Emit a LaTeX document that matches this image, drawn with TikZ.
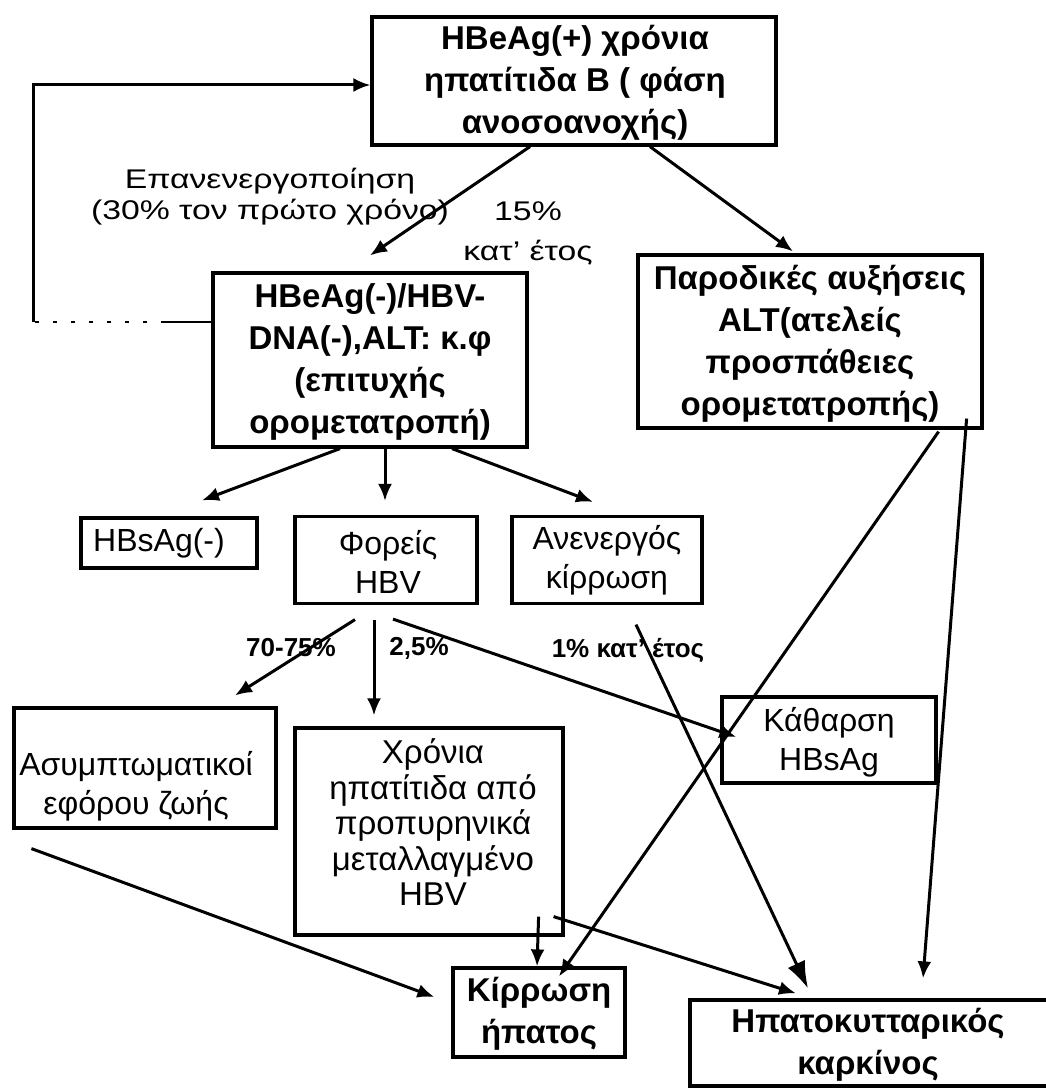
\documentclass[tikz,border=0pt]{standalone}
\usepackage{fontspec}
\setmainfont{Liberation Sans}
\usetikzlibrary{arrows.meta,calc}
\begin{document}
\begin{tikzpicture}[x=1pt,y=-1pt,
  box/.style={draw, line width=3.2pt, inner sep=0pt},
  btext/.style={inner sep=0pt, align=center, font=\fontsize{33}{42}\selectfont\bfseries},
  rtext/.style={inner sep=0pt, align=center, font=\fontsize{32}{39}\selectfont},
  lbl/.style={inner sep=0pt, align=center, font=\fontsize{26}{31}\selectfont\bfseries},
  rlbl/.style={inner sep=0pt, align=center, font=\fontsize{27}{31}\selectfont},
  conn/.style={line width=3pt, -{Latex[length=17pt,width=14pt]}},
  bigconn/.style={line width=3pt, -{Latex[length=27pt,width=19pt]}},
]
\useasboundingbox (0,0) rectangle (1046,1089);

% boxes
\node[box, minimum width=404pt, minimum height=128pt] (top) at (574,81) {};
\node[box, minimum width=314pt, minimum height=174pt] (dna) at (370,360) {};
\node[box, minimum width=344pt, minimum height=173pt] (par) at (810,341.5) {};
\node[box, minimum width=176pt, minimum height=50pt] (hbs) at (169,543) {};
\node[box, minimum width=182pt, minimum height=87pt] (for) at (386,560) {};
\node[box, minimum width=190pt, minimum height=87pt] (anen) at (607,560) {};
\node[box, minimum width=262pt, minimum height=120pt] (asym) at (145,768) {};
\node[box, minimum width=268pt, minimum height=207pt] (chr) at (429,831.5) {};
\node[box, minimum width=214pt, minimum height=86pt] (kath) at (829,740) {};
\node[box, minimum width=172pt, minimum height=89pt] (kir) at (539,1012.5) {};
\node[box, minimum width=380pt, minimum height=86pt] (hcc) at (880,1043) {};

% box texts
\node[btext] (topT) at ($(top)+(1,2)$) {HBeAg(+) χρόνια\\ηπατίτιδα Β ( φάση\\ανοσοανοχής)};
\node[btext] (dnaT) at ($(dna)+(0,2)$) {HBeAg(-)/HBV-\\DNA(-),ALT: κ.φ\\(επιτυχής\\ορομετατροπή)};
\node[btext] (parT) at ($(par)+(0,2)$) {Παροδικές αυξήσεις\\ALT(ατελείς\\προσπάθειες\\ορομετατροπής)};
\node[rtext] (hbsT) at ($(hbs)+(-10,0)$) {HBsAg(-)};
\node[rtext] (forT) at ($(for)+(2,2)$) {Φορείς\\HBV};
\node[rtext] (anenT) at ($(anen)+(0,0)$) {Ανενεργός\\κίρρωση};
\node[rtext] (asymT) at ($(asym)+(-9,18)$) {Ασυμπτωματικοί\\εφόρου ζωής};
\node[rtext, font=\fontsize{33}{35.5}\selectfont] (chrT) at ($(chr)+(4,-9)$)
  {Χρόνια\\ηπατίτιδα από\\προπυρηνικά\\μεταλλαγμένο\\HBV};
\node[rtext] (kathT) at ($(kath)+(0,2)$) {Κάθαρση\\HBsAg};
\node[btext] (kirT) at ($(kir)+(0,1)$) {Κίρρωση\\ήπατος};
\node[btext] (hccT) at ($(hcc)+(-12,2)$) {Ηπατοκυτταρικός\\καρκίνος};

% labels
\node[rlbl] (react) at (270,197)
  {\scalebox{1.25}[1]{Επανενεργοποίηση}\\\scalebox{1.25}[1]{(30\% τον πρώτο χρόνο)}};
\node[rlbl, font=\fontsize{27}{40}\selectfont] (r15) at (528,233)
  {\scalebox{1.25}[1]{15\%}\\\scalebox{1.25}[1]{κατ’ έτος}};
\node[lbl] (l7075) at (291,648) {70-75\%};
\node[lbl] (l25) at (419,648) {2,5\%};
\node[lbl] (l1) at (628,650) {1\% κατ’ έτος};

% feedback loop back to the immune-tolerant phase
\coordinate (fbA) at (33,322);
\draw[line width=2.6pt] ($(dna.west)+(0,-38)$) -- ++(-46,0) coordinate (fbM);
\draw[line width=1.8pt, dash pattern=on 4pt off 14pt] (fbM) -- (fbA);
\draw[conn] (fbA) |- ($(top.west)+(0,4)$);

% connectors
\draw[conn] ($(top.south)+(-44,0)$) -- ($(dna.north)+(0,-16)$);
\draw[conn] ($(top.south)+(76,0)$) -- ($(par.north)+(-17,-2)$);
\draw[conn] ($(dna.south)+(-30,0)$) -- ($(hbs.north)+(33,-16)$);
\draw[conn] ($(dna.south)+(15,0)$) -- ($(for.north)+(-1,-14)$);
\draw[conn] ($(dna.south)+(82,0)$) -- ($(anen.north)+(-14,-13)$);
\draw[conn] ($(for.south)+(-31,14.5)$) -- ($(asym.north)+(90,-11)$);
\draw[conn] ($(for.south)+(-12,14.5)$) -- ($(chr.north)+(-55,-11)$);
\draw[conn] ($(for.south)+(7,14)$) -- ($(kath.west)+(16,-3)$);
\draw[bigconn] ($(anen.south)+(29,19.5)$) -- ($(hcc.north)+(-72,-10)$);
\draw[conn] ($(par.south east)+(-45,2)$) -- ($(kir.north)+(20,10)$);
\draw[conn] ($(par.south east)+(-17,-11)$) -- ($(hcc.north)+(43,-20)$);
\draw[conn] ($(asym.south west)+(19,19)$) -- ($(kir.west)+(-17,-15.5)$);
\draw[conn] ($(chr.south east)+(-26,-20)$) -- ($(kir.north)+(-2,0)$);
\draw[conn] ($(chr.south east)+(-11,-20)$) -- ($(hcc.north)+(-84,-5)$);
\end{tikzpicture}
\end{document}
